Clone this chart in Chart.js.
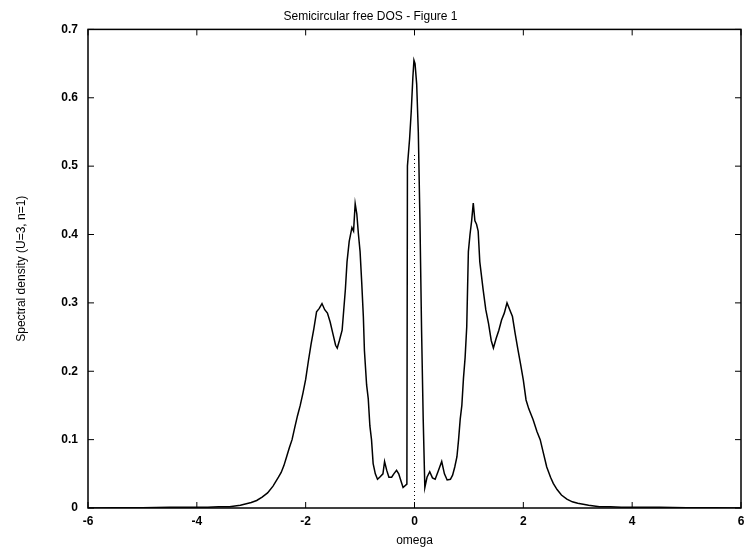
<!DOCTYPE html>
<html>
<head>
<meta charset="utf-8">
<script src="https://cdn.jsdelivr.net/npm/chart.js@4/dist/chart.umd.min.js"></script>
<style>
  html, body { margin: 0; padding: 0; background: #fff; }
  #wrap { width: 744px; height: 548px; }
</style>
</head>
<body>
<div id="wrap"><canvas id="dos"></canvas></div>
<script>
// spectral density
const omega = [
  -6.0, -5.5, -5.0, -4.5, -4.0, -3.8, -3.6, -3.4, -3.2, -3.0,
  -2.9, -2.8, -2.7, -2.6, -2.5, -2.45, -2.4, -2.35, -2.3, -2.25,
  -2.2, -2.15, -2.1, -2.05, -2.0, -1.95, -1.9, -1.85, -1.8, -1.75,
  -1.7, -1.65, -1.6, -1.55, -1.5, -1.45, -1.42, -1.38, -1.33, -1.3,
  -1.27, -1.24, -1.2, -1.15, -1.12, -1.09, -1.06, -1.03, -1.0, -0.97,
  -0.94, -0.92, -0.88, -0.85, -0.82, -0.79, -0.76, -0.72, -0.68, -0.64,
  -0.58, -0.55, -0.51, -0.47, -0.42, -0.38, -0.33, -0.29, -0.25, -0.21,
  -0.14, -0.13, -0.09, -0.06, -0.03, -0.01,
  0.01, 0.04, 0.07, 0.1, 0.13, 0.16, 0.19, 0.23, 0.28, 0.33,
  0.38, 0.44, 0.5, 0.55, 0.6, 0.66, 0.7, 0.74, 0.78, 0.81,
  0.84, 0.87, 0.9, 0.93, 0.96, 0.99, 1.02, 1.05, 1.08, 1.11,
  1.14, 1.17, 1.2, 1.26, 1.31, 1.36, 1.41, 1.45, 1.5, 1.55,
  1.6, 1.65, 1.7, 1.75, 1.8, 1.85, 1.9, 1.95, 2.0, 2.05,
  2.1, 2.18, 2.25, 2.31, 2.37, 2.43, 2.5, 2.55, 2.62, 2.7,
  2.8, 2.9, 3.0, 3.2, 3.4, 3.6, 3.8, 4.0, 4.5, 5.0,
  5.5, 6.0
];
const density = [
  0, 0.0005, 0.0005, 0.001, 0.001, 0.001, 0.002, 0.002, 0.004, 0.008,
  0.011, 0.016, 0.022, 0.032, 0.045, 0.052, 0.062, 0.075, 0.088, 0.1,
  0.118, 0.135, 0.15, 0.168, 0.188, 0.215, 0.24, 0.262, 0.287, 0.292,
  0.299, 0.29, 0.285, 0.272, 0.255, 0.238, 0.234, 0.245, 0.26, 0.29,
  0.32, 0.36, 0.39, 0.41, 0.405, 0.445, 0.43, 0.4, 0.375, 0.33,
  0.28, 0.23, 0.18, 0.16, 0.12, 0.1, 0.065, 0.05, 0.042, 0.045,
  0.05, 0.068, 0.055, 0.045, 0.045, 0.05, 0.055, 0.05, 0.04, 0.03,
  0.035, 0.5, 0.54, 0.58, 0.63, 0.655,
  0.65, 0.62, 0.55, 0.42, 0.26, 0.13, 0.03, 0.045, 0.053, 0.044,
  0.042, 0.055, 0.068, 0.05, 0.041, 0.042, 0.048, 0.06, 0.075, 0.1,
  0.13, 0.15, 0.19, 0.22, 0.265, 0.375, 0.4, 0.42, 0.446, 0.42,
  0.415, 0.405, 0.36, 0.32, 0.29, 0.27, 0.245, 0.234, 0.248, 0.26,
  0.275, 0.285, 0.3, 0.29, 0.28, 0.255, 0.232, 0.21, 0.187, 0.158,
  0.145, 0.129, 0.112, 0.1, 0.08, 0.06, 0.045, 0.036, 0.027, 0.019,
  0.013, 0.009, 0.007, 0.004, 0.002, 0.002, 0.001, 0.001, 0.001, 0.0005,
  0.0005, 0
];
// dotted marker at omega = 0
const markX = [0, 0];
const markY = [0, 0.52];

const xTicks = [-6, -4, -2, 0, 2, 4, 6];
const yTicks = [0, 0.1, 0.2, 0.3, 0.4, 0.5, 0.6, 0.7];

const FONT = "'Liberation Sans', Arial, Helvetica, sans-serif";

// frame around the plot plus inward tick marks on all four sides
const framePlugin = {
  id: 'frame',
  afterDraw(chart) {
    const {ctx, chartArea: a, scales} = chart;
    ctx.save();
    ctx.strokeStyle = '#000';
    ctx.lineWidth = 1.5;
    ctx.strokeRect(a.left, a.top, a.right - a.left, a.bottom - a.top);
    ctx.lineWidth = 1;
    ctx.beginPath();
    xTicks.forEach(v => {
      const px = scales.x.getPixelForValue(v);
      ctx.moveTo(px, a.bottom); ctx.lineTo(px, a.bottom - 6);
      ctx.moveTo(px, a.top); ctx.lineTo(px, a.top + 6);
    });
    yTicks.forEach(v => {
      const py = scales.y.getPixelForValue(v);
      ctx.moveTo(a.left, py); ctx.lineTo(a.left + 6, py);
      ctx.moveTo(a.right, py); ctx.lineTo(a.right - 6, py);
    });
    ctx.stroke();
    ctx.restore();
  }
};

new Chart("dos", {
  type: 'scatter',
  data: {
    datasets: [{
      data: omega.map((w, i) => ({x: w, y: density[i]})),
      showLine: true,
      borderColor: '#000',
      borderWidth: 1.5,
      pointRadius: 0,
      tension: 0
    }, {
      data: markX.map((w, i) => ({x: w, y: markY[i]})),
      showLine: true,
      borderColor: '#000',
      borderWidth: 1,
      borderDash: [1, 3],
      pointRadius: 0
    }]
  },
  options: {
    responsive: true,
    maintainAspectRatio: false,
    animation: false,
    layout: { padding: { left: 0, right: 3, top: 0, bottom: 0 } },
    plugins: {
      legend: { display: false },
      tooltip: { enabled: false },
      title: {
        display: true,
        text: 'Semicircular free DOS - Figure 1',
        color: '#000',
        font: { family: FONT, size: 12, weight: 'normal' },
        padding: { top: 9, bottom: 6 }
      }
    },
    scales: {
      x: {
        type: 'linear',
        min: -6, max: 6,
        grid: { display: false, drawTicks: false },
        border: { display: false },
        afterBuildTicks: s => { s.ticks = xTicks.map(v => ({value: v})); },
        afterFit: s => { s.height = 40; s.paddingLeft = 0; s.paddingRight = 0; },
        ticks: {
          color: '#000', padding: 6, maxRotation: 0, autoSkip: false,
          font: { family: FONT, size: 12, weight: 'bold' }
        },
        title: {
          display: true, text: 'omega', color: '#000',
          font: { family: FONT, size: 12 },
          padding: { top: 0, bottom: 0 }
        }
      },
      y: {
        type: 'linear',
        min: 0, max: 0.7,
        grid: { display: false, drawTicks: false },
        border: { display: false },
        afterBuildTicks: s => { s.ticks = yTicks.map(v => ({value: v})); },
        afterFit: s => { s.width = 88; },
        ticks: {
          color: '#000', padding: 10,
          font: { family: FONT, size: 12, weight: 'bold' }
        },
        title: {
          display: true, text: 'Spectral density (U=3, n=1)', color: '#000',
          font: { family: FONT, size: 12 },
          padding: { top: 14, bottom: 0 }
        }
      }
    }
  },
  plugins: [framePlugin]
});
</script>
</body>
</html>
